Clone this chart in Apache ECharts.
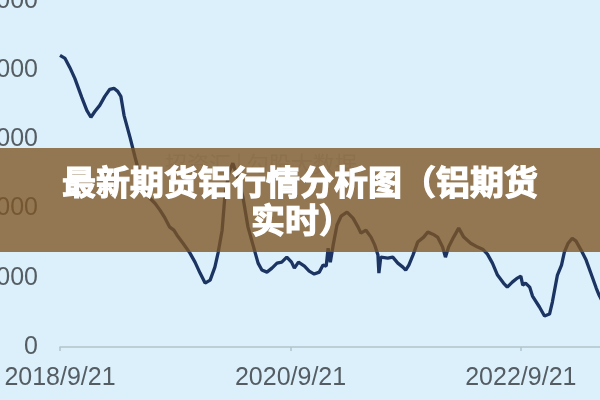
<!DOCTYPE html>
<html>
<head>
<meta charset="utf-8">
<script src="https://cdn.jsdelivr.net/npm/echarts@6/dist/echarts.min.js"></script>
<style>
html,body{margin:0;padding:0;background:#dbf0fb;}
#chart{width:600px;height:400px;}
</style>
</head>
<body>
<div id="chart"></div>
<script>
const dates = [
'2018-09-21','2018-10-07','2018-10-22','2018-11-07','2018-11-29','2018-12-15','2018-12-28',
'2019-01-10','2019-01-25','2019-02-10','2019-02-26','2019-03-11','2019-03-23','2019-04-02','2019-04-12',
'2019-05-01','2019-05-17','2019-06-01','2019-06-17','2019-07-03','2019-07-19','2019-08-04','2019-08-20',
'2019-09-04','2019-09-17','2019-09-27','2019-10-16','2019-11-07','2019-11-23','2019-12-09','2019-12-25',
'2020-01-10','2020-01-25','2020-02-04','2020-02-17','2020-02-26','2020-03-10','2020-03-22','2020-04-07',
'2020-04-23','2020-05-09','2020-05-25','2020-06-10','2020-06-22','2020-07-08','2020-07-24','2020-08-09',
'2020-08-24','2020-09-09','2020-09-24','2020-10-03','2020-10-16','2020-11-04','2020-11-19','2020-12-05',
'2020-12-21','2021-01-02','2021-01-12','2021-01-18','2021-01-25','2021-02-03','2021-02-15','2021-02-28',
'2021-03-19','2021-04-07','2021-04-23','2021-05-02','2021-05-18','2021-06-03','2021-06-15','2021-06-25',
'2021-06-28','2021-07-04','2021-07-26','2021-08-11','2021-08-27','2021-09-12','2021-09-21','2021-10-01',
'2021-10-14','2021-10-29','2021-11-17','2021-11-30','2021-12-16','2021-12-31','2022-01-16','2022-01-25',
'2022-02-04','2022-02-20','2022-03-08','2022-03-24','2022-04-15','2022-05-07','2022-05-23','2022-06-07',
'2022-06-23','2022-07-09','2022-07-28','2022-08-09','2022-08-25','2022-09-10','2022-09-21','2022-09-27',
'2022-10-06','2022-10-19','2022-10-28','2022-11-19','2022-12-05','2022-12-21','2022-12-30','2023-01-09',
'2023-01-15','2023-01-28','2023-02-06','2023-02-18','2023-03-03','2023-03-15','2023-03-31','2023-04-16',
'2023-05-02','2023-05-18','2023-05-27','2023-06-12'
];
const values = [
21070,20850,20200,19410,18040,17100,16600,
17030,17460,18110,18620,18690,18470,18110,16740,
15150,13710,12410,11470,10750,10390,9890,9310,
8660,8440,8080,7500,6780,6130,5340,4620,
4830,5770,6780,8440,10970,12630,13280,12190,
10820,8660,7360,6060,5560,5410,5700,6060,
6130,6490,6130,5700,6130,5840,5480,5270,
5410,5920,5840,7140,6130,7360,8800,9450,
9740,9310,8660,8230,8440,7940,7360,6640,
5340,6490,6420,6490,6060,5770,5560,5920,
6640,7580,7940,8300,8150,7940,7220,6490,
7220,7940,8590,7940,7500,7220,7070,6710,
6060,5200,4620,4330,4690,4980,5120,4470,
4620,4330,3680,2890,2240,2380,3250,4470,
5200,5920,6850,7500,7860,7650,7000,6280,
5270,4260,3750,3030
];
const xTickLabels = ['2018/9/21','2020/9/21','2022/9/21'];
const yTicks = [0,5000,10000,15000,20000,25000];
const titleLines = ['最新期货铝行情分析图（铝期货','实时）'];

function toTs(s){const p=s.split(/[-\/]/).map(Number);return new Date(p[0],p[1]-1,p[2]).getTime();}
const xTickTs = xTickLabels.map(toTs);
const seriesData = dates.map((d,i)=>[toTs(d), values[i]]);

const chart = echarts.init(document.getElementById('chart'), null, {renderer:'canvas'});
chart.setOption({
  backgroundColor:'#dbf0fb',
  animation:false,
  grid:{left:60,right:0,top:1,bottom:53,containLabel:false,outerBoundsMode:'none'},
  xAxis:{
    type:'value',
    min:toTs('2018-09-21'),
    max:toTs('2023-05-30'),
    axisLine:{show:true,lineStyle:{color:'#b3c3cb',width:1.5}},
    axisTick:{show:true,customValues:xTickTs,length:4,lineStyle:{color:'#b3c3cb',width:1.5}},
    splitLine:{show:false},
    axisLabel:{
      customValues:xTickTs,
      showMinLabel:true,showMaxLabel:true,
      margin:19,
      color:'#555d63',
      fontSize:25,
      fontFamily:'Liberation Sans',
      formatter:function(v){const d=new Date(v);return d.getFullYear()+'/'+(d.getMonth()+1)+'/'+d.getDate();}
    }
  },
  yAxis:{
    type:'value',
    min:yTicks[0],max:yTicks[yTicks.length-1],interval:yTicks[1]-yTicks[0],
    axisLine:{show:false},axisTick:{show:false},splitLine:{show:false},
    axisLabel:{margin:22,color:'#555d63',fontSize:25,fontFamily:'Liberation Sans',
      formatter:function(v){return String(v);}}
  },
  series:[{
    type:'line',
    data:seriesData,
    showSymbol:false,
    symbol:'none',
    clip:true,
    lineStyle:{color:'#1b3461',width:3.3},
    z:2
  }],
  graphic:[
    {type:'text',z:50,left:165,top:153,style:{text:'招资汇 | 勾股大数据',fill:'rgba(130,130,130,0.25)',font:'22px "Noto Sans CJK SC"'}},
    {type:'rect',z:100,shape:{x:0,y:148,width:600,height:104},style:{fill:'rgba(125,85,35,0.78)'}},
    {type:'text',z:110,x:300,y:182,style:{text:titleLines[0],fill:'#ffffff',stroke:'#ffffff',lineWidth:1.2,font:'bold 34px "Noto Sans CJK SC"',textAlign:'center',textVerticalAlign:'middle'}},
    {type:'text',z:110,x:302,y:220,style:{text:titleLines[1],fill:'#ffffff',stroke:'#ffffff',lineWidth:1.2,font:'bold 34px "Noto Sans CJK SC"',textAlign:'center',textVerticalAlign:'middle'}}
  ]
});
</script>
</body>
</html>
